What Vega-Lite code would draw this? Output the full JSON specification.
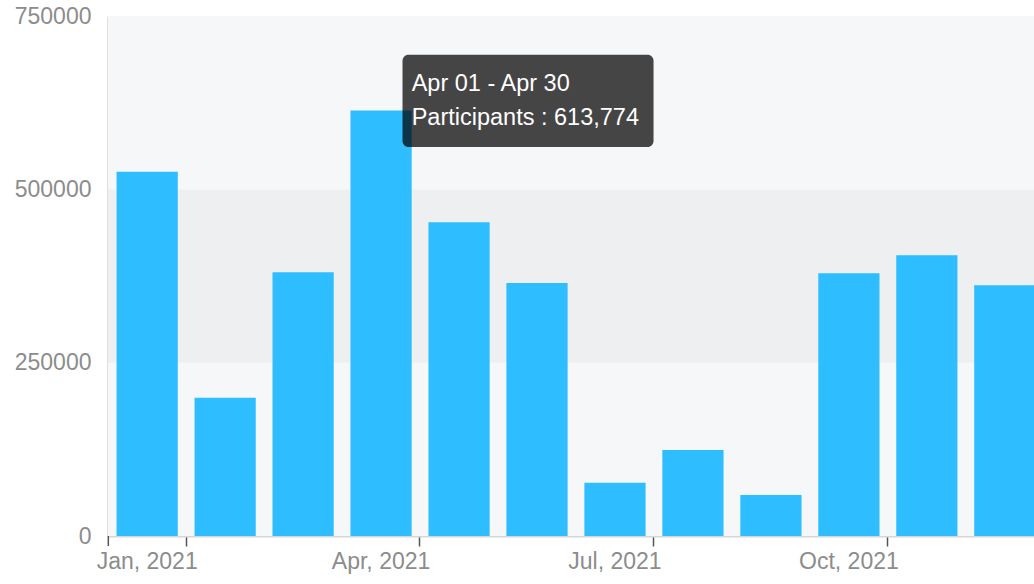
{
  "$schema": "https://vega.github.io/schema/vega-lite/v6.json",
  "autosize": "none",
  "width": 926,
  "height": 520,
  "padding": {"left": 108, "top": 16, "right": 0, "bottom": 48},
  "background": "#ffffff",
  "view": {"stroke": "#e2e2e2", "strokeWidth": 1},
  "config": {"font": "Liberation Sans"},
  "datasets": {
    "bands": [
      {"lo": 0, "hi": 250000, "shade": "light"},
      {"lo": 250000, "hi": 500000, "shade": "dark"},
      {"lo": 500000, "hi": 750000, "shade": "light"}
    ],
    "months": [
      {"month": "Jan, 2021", "participants": 525400},
      {"month": "Feb, 2021", "participants": 199500},
      {"month": "Mar, 2021", "participants": 380300},
      {"month": "Apr, 2021", "participants": 613774},
      {"month": "May, 2021", "participants": 452400},
      {"month": "Jun, 2021", "participants": 364900},
      {"month": "Jul, 2021", "participants": 76900},
      {"month": "Aug, 2021", "participants": 124000},
      {"month": "Sep, 2021", "participants": 59100},
      {"month": "Oct, 2021", "participants": 378800},
      {"month": "Nov, 2021", "participants": 404800},
      {"month": "Dec, 2021", "participants": 361500}
    ],
    "tip": [
      {"from": "Apr, 2021", "to": "Jul, 2021", "top": 694000, "bottom": 561000}
    ],
    "tiptext": [
      {"month": "Apr, 2021", "y": 642300, "text": "Apr 01 - Apr 30"},
      {"month": "Apr, 2021", "y": 592800, "text": "Participants : 613,774"}
    ],
    "starttick": [
      {"month": "Jan, 2021", "a": 0, "b": -14400}
    ]
  },
  "layer": [
    {
      "data": {"name": "bands"},
      "mark": {"type": "rect"},
      "encoding": {
        "y": {"field": "lo", "type": "quantitative", "scale": {"domain": [0, 750000], "nice": false}},
        "y2": {"field": "hi"},
        "color": {"field": "shade", "type": "nominal", "scale": {"domain": ["light", "dark"], "range": ["#f6f7f9", "#eeeff1"]}, "legend": null}
      }
    },
    {
      "data": {"name": "months"},
      "mark": {"type": "bar", "color": "#2ebdff", "clip": true},
      "encoding": {
        "x": {
          "field": "month",
          "type": "ordinal",
          "scale": {
            "domain": ["Jan, 2021", "Feb, 2021", "Mar, 2021", "Apr, 2021", "May, 2021", "Jun, 2021", "Jul, 2021", "Aug, 2021", "Sep, 2021", "Oct, 2021", "Nov, 2021", "Dec, 2021"],
            "range": [0, 936],
            "paddingInner": 0.215,
            "paddingOuter": 0.11
          },
          "axis": {
            "title": null,
            "values": ["Jan, 2021", "Apr, 2021", "Jul, 2021", "Oct, 2021"],
            "labelAngle": 0,
            "labelFontSize": 23,
            "labelColor": "#8c8c8c",
            "labelPadding": 4,
            "tickSize": 10,
            "tickColor": "#555555",
            "tickWidth": 1.5,
            "bandPosition": 1.135,
            "domainColor": "#d6d6d6",
            "domainWidth": 2,
            "grid": false
          }
        },
        "y": {
          "field": "participants",
          "type": "quantitative",
          "axis": {
            "title": null,
            "values": [0, 250000, 500000, 750000],
            "format": "d",
            "ticks": false,
            "labelFontSize": 23,
            "labelColor": "#8c8c8c",
            "labelPadding": 17,
            "domainColor": "#d6d6d6",
            "domainWidth": 2.5,
            "grid": false
          }
        }
      }
    },
    {
      "data": {"name": "starttick"},
      "mark": {"type": "rule", "color": "#555555", "strokeWidth": 1.5},
      "encoding": {
        "x": {"field": "month", "type": "ordinal", "bandPosition": -0.135},
        "y": {"field": "a", "type": "quantitative"},
        "y2": {"field": "b"}
      }
    },
    {
      "data": {"name": "tip"},
      "mark": {"type": "rect", "color": "#000000", "opacity": 0.72, "cornerRadius": 6},
      "encoding": {
        "x": {"field": "from", "type": "ordinal", "bandPosition": 0.85},
        "x2": {"field": "to", "bandPosition": 1.13},
        "y": {"field": "top", "type": "quantitative"},
        "y2": {"field": "bottom"}
      }
    },
    {
      "data": {"name": "tiptext"},
      "mark": {"type": "text", "align": "left", "baseline": "alphabetic", "fontSize": 23.5, "color": "#ffffff"},
      "encoding": {
        "x": {"field": "month", "type": "ordinal", "bandPosition": 1},
        "y": {"field": "y", "type": "quantitative"},
        "text": {"field": "text"}
      }
    }
  ]
}
